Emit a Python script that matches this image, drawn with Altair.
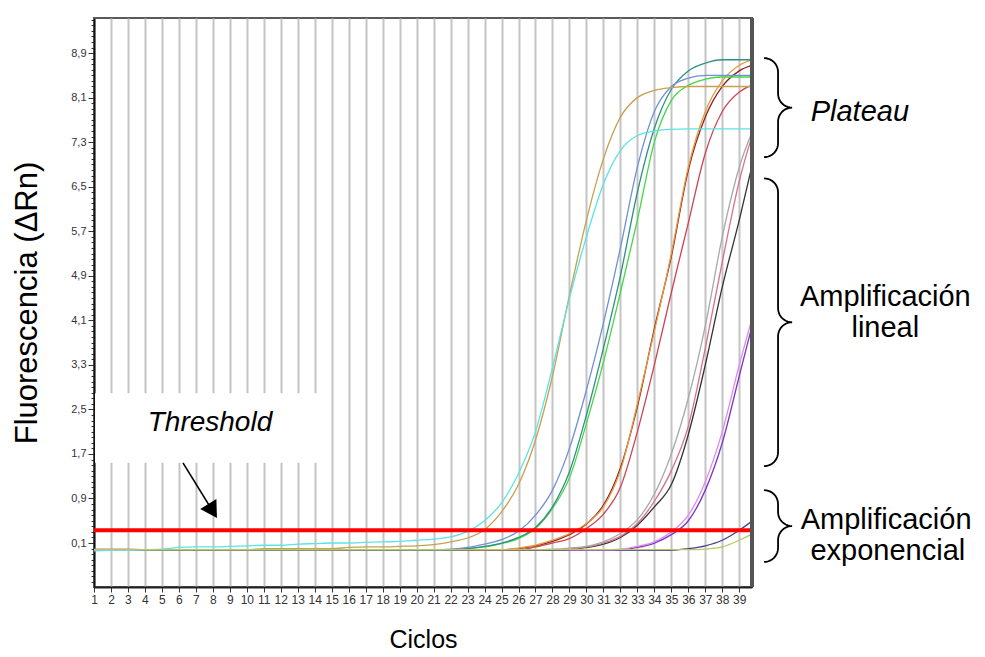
import math
import altair as alt
import pandas as pd

# ---------------- data ----------------
cycles = list(range(1, 41))

cyan = [-0.04, -0.03, -0.03, -0.02, -0.01, 0.02, 0.03, 0.03, 0.04, 0.05,
        0.06, 0.06, 0.08, 0.09, 0.10, 0.10, 0.11, 0.12, 0.13, 0.15,
        0.17, 0.21, 0.31, 0.50, 0.82, 1.35, 2.10, 3.25, 4.50, 5.60,
        6.55, 7.15, 7.42, 7.50, 7.53, 7.54, 7.54, 7.54, 7.54, 7.54]
tan = [-0.02, -0.02, -0.02, -0.02, -0.02, -0.02, -0.02, -0.02, -0.02, -0.02,
       0.00, 0.00, 0.00, 0.00, 0.00, 0.02, 0.03, 0.03, 0.04, 0.05,
       0.07, 0.12, 0.19, 0.34, 0.66, 1.15, 1.95, 3.10, 4.55, 5.90,
       7.00, 7.75, 8.10, 8.23, 8.28, 8.30, 8.30, 8.30, 8.30, 8.30]
blue = [-0.02, -0.02, -0.02, -0.02, -0.02, -0.02, -0.02, -0.02, -0.02, -0.02,
        -0.02, -0.02, -0.02, -0.02, -0.02, -0.02, -0.02, -0.02, -0.02, -0.02,
        -0.02, -0.01, 0.02, 0.08, 0.16, 0.31, 0.60, 1.05, 1.80, 2.85,
        4.05, 5.40, 6.85, 7.85, 8.30, 8.45, 8.50, 8.50, 8.50, 8.50]
teal = [-0.02, -0.02, -0.02, -0.02, -0.02, -0.02, -0.02, -0.02, -0.02, -0.02,
        -0.02, -0.02, -0.02, -0.02, -0.02, -0.02, -0.02, -0.02, -0.02, -0.02,
        -0.02, -0.02, 0.00, 0.04, 0.10, 0.20, 0.38, 0.75, 1.38, 2.40,
        3.60, 4.90, 6.40, 7.55, 8.25, 8.58, 8.72, 8.78, 8.78, 8.78]
green = [-0.02, -0.02, -0.02, -0.02, -0.02, -0.02, -0.02, -0.02, -0.02, -0.02,
         -0.02, -0.02, -0.02, -0.02, -0.02, -0.02, -0.02, -0.02, -0.02, -0.02,
         -0.02, -0.02, 0.00, 0.03, 0.09, 0.18, 0.36, 0.72, 1.27, 2.25,
         3.35, 4.60, 5.90, 7.30, 8.05, 8.32, 8.43, 8.47, 8.47, 8.47]
orange = [-0.02, -0.02, -0.02, -0.02, -0.02, -0.02, -0.02, -0.02, -0.02, -0.02,
          -0.02, -0.02, -0.02, -0.02, -0.02, -0.02, -0.02, -0.02, -0.02, -0.02,
          -0.02, -0.02, -0.02, -0.02, -0.02, 0.01, 0.06, 0.15, 0.27, 0.45,
          0.75, 1.40, 2.60, 3.90, 5.30, 6.85, 7.85, 8.40, 8.68, 8.80]
maroon = [-0.02, -0.02, -0.02, -0.02, -0.02, -0.02, -0.02, -0.02, -0.02, -0.02,
          -0.02, -0.02, -0.02, -0.02, -0.02, -0.02, -0.02, -0.02, -0.02, -0.02,
          -0.02, -0.02, -0.02, -0.02, -0.02, 0.00, 0.05, 0.13, 0.25, 0.44,
          0.78, 1.45, 2.55, 3.95, 5.25, 6.80, 7.75, 8.30, 8.58, 8.70]
crimson = [-0.02, -0.02, -0.02, -0.02, -0.02, -0.02, -0.02, -0.02, -0.02, -0.02,
           -0.02, -0.02, -0.02, -0.02, -0.02, -0.02, -0.02, -0.02, -0.02, -0.02,
           -0.02, -0.02, -0.02, -0.02, -0.02, -0.02, 0.03, 0.10, 0.18, 0.36,
           0.62, 1.10, 2.10, 3.30, 4.60, 5.85, 7.10, 7.85, 8.20, 8.35]
gray = [-0.02, -0.02, -0.02, -0.02, -0.02, -0.02, -0.02, -0.02, -0.02, -0.02,
        -0.02, -0.02, -0.02, -0.02, -0.02, -0.02, -0.02, -0.02, -0.02, -0.02,
        -0.02, -0.02, -0.02, -0.02, -0.02, -0.02, -0.02, -0.01, 0.01, 0.04,
        0.12, 0.27, 0.52, 0.98, 1.70, 2.70, 4.00, 5.60, 6.85, 7.65]
pink = [-0.01, -0.01, -0.01, -0.02, -0.02, -0.02, -0.02, -0.02, -0.02, -0.02,
        -0.02, -0.02, -0.02, -0.02, -0.02, -0.02, -0.02, -0.02, -0.02, -0.02,
        -0.02, -0.02, -0.02, -0.02, -0.02, -0.02, -0.02, -0.02, -0.01, 0.03,
        0.10, 0.22, 0.45, 0.85, 1.40, 2.20, 3.60, 5.15, 6.60, 7.65]
black = [-0.03, -0.03, -0.03, -0.03, -0.03, -0.03, -0.03, -0.03, -0.03, -0.03,
         -0.03, -0.03, -0.03, -0.03, -0.03, -0.03, -0.03, -0.03, -0.03, -0.03,
         -0.03, -0.03, -0.03, -0.03, -0.03, -0.03, -0.03, -0.03, -0.02, 0.02,
         0.08, 0.20, 0.42, 0.75, 1.15, 2.05, 3.30, 4.70, 5.90, 7.20]
violet = [-0.02, -0.02, -0.02, -0.02, -0.02, -0.02, -0.02, -0.02, -0.02, -0.02,
          -0.02, -0.02, -0.02, -0.02, -0.02, -0.02, -0.02, -0.02, -0.02, -0.02,
          -0.02, -0.02, -0.02, -0.02, -0.02, -0.02, -0.02, -0.02, -0.02, -0.02,
          -0.02, -0.01, 0.04, 0.12, 0.30, 0.60, 1.20, 2.10, 3.30, 4.40]
purple = [-0.03, -0.03, -0.03, -0.03, -0.03, -0.03, -0.03, -0.03, -0.03, -0.03,
          -0.03, -0.03, -0.03, -0.03, -0.03, -0.03, -0.03, -0.03, -0.03, -0.03,
          -0.03, -0.03, -0.03, -0.03, -0.03, -0.03, -0.03, -0.03, -0.03, -0.03,
          -0.03, -0.02, 0.02, 0.10, 0.25, 0.50, 1.05, 1.90, 3.10, 4.30]
navy = [-0.03, -0.03, -0.03, -0.03, -0.03, -0.03, -0.03, -0.03, -0.03, -0.03,
        -0.03, -0.03, -0.03, -0.03, -0.03, -0.03, -0.03, -0.03, -0.03, -0.03,
        -0.03, -0.03, -0.03, -0.03, -0.03, -0.03, -0.03, -0.03, -0.03, -0.03,
        -0.03, -0.03, -0.03, -0.03, -0.03, 0.00, 0.05, 0.15, 0.33, 0.55]
olive = [-0.02, -0.02, -0.02, -0.02, -0.02, -0.02, -0.02, -0.02, -0.02, -0.02,
         -0.02, -0.02, -0.02, -0.02, -0.02, -0.02, -0.02, -0.02, -0.02, -0.02,
         -0.02, -0.02, -0.02, -0.02, -0.02, -0.02, -0.02, -0.02, -0.02, -0.02,
         -0.02, -0.02, -0.02, -0.02, -0.02, -0.02, -0.01, 0.03, 0.15, 0.30]

curve_names = ["navy", "purple", "violet", "black", "pink", "gray", "crimson",
               "maroon", "orange", "green", "teal", "blue", "tan", "cyan", "olive"]
curve_values = [navy, purple, violet, black, pink, gray, crimson,
                maroon, orange, green, teal, blue, tan, cyan, olive]
curve_colors = ["#4b3f8f", "#7b35c8", "#dc8ce8", "#333333", "#d8708c", "#a8a8a8",
                "#cc4455", "#8b2020", "#e89a3c", "#44d844", "#2f8f86", "#7090d8",
                "#c8a050", "#5ce3e3", "#b5c86a"]

threshold = 0.33
y_label_values = [0.1, 0.9, 1.7, 2.5, 3.3, 4.1, 4.9, 5.7, 6.5, 7.3, 8.1, 8.9]
x_label_values = list(range(1, 40))

threshold_text = "Threshold"
phase_labels = ["Plateau", "Amplificación", "lineal", "Amplificación", "exponencial"]
brace_tops = [8.81, 6.65, 1.05]
brace_bottoms = [7.03, 1.48, -0.24]

# ---------------- layout ----------------
WIDTH, HEIGHT = 658, 569
XMIN, XMAX = 1, 39.75
YMIN, YMAX = -0.69, 9.53
PX_X = WIDTH / (XMAX - XMIN)
PX_Y = HEIGHT / (YMAX - YMIN)
FONT = "Liberation Sans"

long_rows = []
for name, vals in zip(curve_names, curve_values):
    for c, v in zip(cycles, vals):
        long_rows.append({"cycle": c, "value": v, "curve": name})
df = pd.DataFrame(long_rows)

xscale = alt.Scale(domain=[XMIN, XMAX], nice=False, zero=False)
yscale = alt.Scale(domain=[YMIN, YMAX], nice=False, zero=False)

lab_arr = "[" + ",".join("'%.1f'" % v for v in y_label_values) + "]"
is_major = "indexof(%s, format(datum.value, '.1f')) >= 0" % lab_arr
y_ticks = [round(-0.6 + 0.1 * i, 1) for i in range(102)]

xaxis = alt.Axis(values=x_label_values, title="Ciclos", labelAngle=0,
                 labelFontSize=12, labelFont=FONT, labelColor="#333333",
                 labelOverlap=False, labelFlush=False, labelPadding=2,
                 tickSize=5, tickColor="#333333", tickWidth=1,
                 domainColor="#222222", domainWidth=2,
                 grid=True, gridColor="#c4c4c4", gridWidth=2,
                 titleFont=FONT, titleFontSize=25, titleFontWeight="normal",
                 titleColor="black", titlePadding=22, zindex=0)
yaxis = alt.Axis(values=y_ticks, title="Fluorescencia (ΔRn)",
                 labelExpr="%s ? replace(format(datum.value, '.1f'), '.', ',') : ''" % is_major,
                 labelFontSize=11, labelFont=FONT, labelColor="#333333",
                 labelOverlap=False, labelFlush=False, labelPadding=2,
                 tickSize={"condition": {"test": is_major, "value": 6}, "value": 3},
                 tickColor="#333333", tickWidth=1,
                 domainColor="#111111", domainWidth=2, grid=False,
                 titleFont=FONT, titleFontSize=31, titleFontWeight="normal",
                 titleColor="black", titlePadding=27, zindex=0)

X = alt.X("cycle:Q", scale=xscale, axis=xaxis)
Y = alt.Y("value:Q", scale=yscale, axis=yaxis)

# white box behind the "Threshold" label
box_df = pd.DataFrame({"cycle": [1.06], "cycle2": [14.2], "value": [1.54], "value2": [2.79]})
box = alt.Chart(box_df).mark_rect(color="white").encode(
    x=X, x2="cycle2:Q", y=Y, y2="value2:Q")

lines = alt.Chart(df).mark_line(clip=True, strokeWidth=1.3, interpolate="monotone").encode(
    x=X, y=Y,
    color=alt.Color("curve:N", scale=alt.Scale(domain=curve_names, range=curve_colors), legend=None),
    order=alt.Order("cycle:Q"))

thr = alt.Chart(pd.DataFrame({"value": [threshold]})).mark_rule(
    color="#ff0000", strokeWidth=4).encode(y=Y)

# arrow from label to threshold
arrow_start = (6.24, 1.54)
arrow_tip = (8.24, 0.55)
dx = (arrow_tip[0] - arrow_start[0]) * PX_X
dy = -(arrow_tip[1] - arrow_start[1]) * PX_Y
L = math.hypot(dx, dy)
ux, uy = dx / L, dy / L
head_r = 9.5
head_h = math.sqrt(3) / 2 * head_r
hc = (arrow_tip[0] - head_h * ux / PX_X, arrow_tip[1] + head_h * uy / PX_Y)
angle = math.degrees(math.atan2(ux, -uy)) % 360
arrow_df = pd.DataFrame({"cycle": [arrow_start[0]], "value": [arrow_start[1]],
                         "cycle2": [hc[0]], "value2": [hc[1]]})
arrow_line = alt.Chart(arrow_df).mark_rule(color="black", strokeWidth=1.6).encode(
    x=X, y=Y, x2="cycle2:Q", y2="value2:Q")
head_df = pd.DataFrame({"cycle": [hc[0]], "value": [hc[1]]})
arrow_head = alt.Chart(head_df).mark_point(
    shape="triangle-up", filled=True, color="black", opacity=1,
    size=(2 * head_r) ** 2, angle=angle).encode(x=X, y=Y)

# texts
th_df = pd.DataFrame({"cycle": [7.83], "value": [2.25], "label": [threshold_text]})
th_text = alt.Chart(th_df).mark_text(font=FONT, fontSize=28, fontStyle="italic",
                                     color="black", align="center", baseline="middle").encode(
    x=X, y=Y, text="label:N")
pl_df = pd.DataFrame({"cycle": [46.1], "value": [7.84], "label": [phase_labels[0]]})
pl_text = alt.Chart(pl_df).mark_text(font=FONT, fontSize=29, fontStyle="italic",
                                     color="black", align="center", baseline="middle").encode(
    x=X, y=Y, text="label:N")
nt_df = pd.DataFrame({"cycle": [47.6, 47.6, 47.65, 47.75],
                      "value": [4.52, 3.96, 0.51, -0.05],
                      "label": phase_labels[1:]})
nt_text = alt.Chart(nt_df).mark_text(font=FONT, fontSize=29, color="black",
                                     align="center", baseline="middle").encode(
    x=X, y=Y, text="label:N")

# braces
x_end = 40.46
rx = 14 / PX_X
ry_px = 14
brace_rows = []
for b, (top, bot) in enumerate(zip(brace_tops, brace_bottoms)):
    yt = (YMAX - top) * PX_Y
    yb = (YMAX - bot) * PX_Y
    ym = (yt + yb) / 2
    pts = []
    n = 10
    for k in range(n + 1):
        t = math.pi / 2 * k / n
        pts.append((math.sin(t), yt + ry_px - ry_px * math.cos(t)))
    for k in range(n + 1):
        t = math.pi / 2 * k / n
        pts.append((2 - math.cos(t), ym - ry_px + ry_px * math.sin(t)))
    for k in range(n + 1):
        t = math.pi / 2 * k / n
        pts.append((2 - math.sin(t), ym + ry_px - ry_px * math.cos(t)))
    for k in range(n + 1):
        t = math.pi / 2 * k / n
        pts.append((math.cos(t), yb - ry_px + ry_px * math.sin(t)))
    for i, (ux_, ypx) in enumerate(pts):
        brace_rows.append({"cycle": x_end + ux_ * rx, "value": YMAX - ypx / PX_Y,
                           "brace": b, "i": i})
brace_df = pd.DataFrame(brace_rows)
braces = alt.Chart(brace_df).mark_line(color="black", strokeWidth=1.8).encode(
    x=X, y=Y, detail="brace:N", order=alt.Order("i:Q"))

right_border = alt.Chart(pd.DataFrame({"cycle": [XMAX]})).mark_rule(
    color="#555555", strokeWidth=4).encode(x=X)

chart = alt.layer(box, lines, thr, arrow_line, arrow_head, th_text, pl_text, nt_text,
                  braces, right_border).properties(
    width=WIDTH, height=HEIGHT,
    padding={"left": 86, "top": 10, "right": 225, "bottom": 68},
    autosize=alt.AutoSizeParams(type="none"),
    background="white",
).configure_view(stroke="#5a5a5a", strokeWidth=2)

chart.save("out.html", embed_options={"renderer": "svg", "actions": False})
